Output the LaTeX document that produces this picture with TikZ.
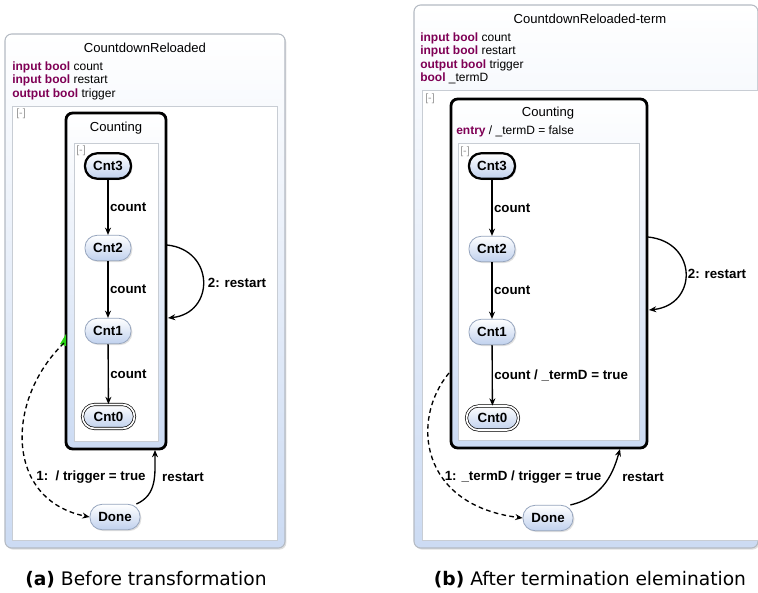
\documentclass[tikz,border=0pt]{standalone}
\usepackage{fontspec}
\setmainfont{Liberation Sans}
\newfontfamily\capfont{DejaVu Sans}
\usetikzlibrary{arrows.meta,shadows,calc}
\definecolor{kw}{RGB}{127,0,85}
\definecolor{panelbot}{RGB}{204,219,243}
\definecolor{nodebot}{RGB}{192,209,238}
\definecolor{nodeedge}{RGB}{150,165,190}
\definecolor{paneledge}{RGB}{180,186,195}
\definecolor{inneredge}{RGB}{200,205,212}
\definecolor{trigreen}{RGB}{40,210,20}
\tikzset{
  panel/.style={draw=paneledge, line width=0.8pt, rounded corners=5pt, top color=white, bottom color=panelbot,
    drop shadow={opacity=0.25, shadow xshift=1pt, shadow yshift=-1.2pt}},
  region/.style={draw=inneredge, line width=0.6pt, fill=white},
  composite/.style={draw=black, line width=2.1pt, rounded corners=5pt, top color=white, bottom color=panelbot,
    inner sep=0pt, outer sep=0pt},
  statebox/.style={shape=rectangle, rounded corners=9pt, minimum width=34.5pt, minimum height=19pt, inner sep=0pt,
    draw=nodeedge, line width=0.6pt, top color=white, bottom color=nodebot,
    font=\bfseries\fontsize{10}{12}\selectfont,
    drop shadow={opacity=0.25, shadow xshift=1pt, shadow yshift=-1pt}},
  initstate/.style={statebox, draw=black, line width=1.7pt},
  finalstate/.style={statebox, draw=black, line width=0.5pt, double=white, double distance=1.3pt, minimum width=39pt, minimum height=18pt},
  trans/.style={-{Stealth[length=5.5pt,width=4.5pt]}, line width=1pt},
  weak/.style={trans, dash pattern=on 3.5pt off 2.5pt},
  lab/.style={font=\bfseries\fontsize{10}{12}\selectfont, inner sep=1pt},
  titletext/.style={font=\fontsize{9.8}{12}\selectfont, inner sep=0pt},
  decl/.style={font=\fontsize{9}{10.2}\selectfont, anchor=west, inner sep=0pt},
  coll/.style={font=\fontsize{8}{9}\selectfont, text=gray!80, inner sep=0pt},
  captext/.style={font=\capfont\fontsize{14}{16}\selectfont, inner sep=0pt}
}
\newcommand{\kwd}[1]{\textcolor{kw}{\textbf{#1}}}
\begin{document}
\begin{tikzpicture}[x=0.75pt,y=-0.75pt]
\useasboundingbox (0,0) rectangle (758,593);

% ================= (a) =================
\draw[panel] (5,34) rectangle (285,548);
\node[titletext] (ta) at (145,48) {CountdownReloaded};
\node[decl] (da1) at (12,67) {\kwd{input bool} count};
\node[decl] (da2) at (12,80.5) {\kwd{input bool} restart};
\node[decl] (da3) at (12,94) {\kwd{output bool} trigger};
\draw[region] (12,106) rectangle (277,540);
\node[coll] (ca) at (21,114) {[-]};

\node[composite, minimum width=75pt, minimum height=252pt] (CA) at (116,281) {};
\node[titletext] (cta) at (116,128) {Counting};
\draw[region] (74,143) rectangle (158,441);
\node[coll] (cia) at (81,151) {[-]};

\node[initstate] (a3) at (108,166) {Cnt3};
\node[statebox] (a2) at (108,248) {Cnt2};
\node[statebox] (a1) at (108,331) {Cnt1};
\node[finalstate] (a0) at (108.5,416.5) {Cnt0};
\node[statebox, minimum width=37.5pt] (ad) at (115,517) {Done};

\draw[trans] (a3) -- node[lab, right] {count} (a2);
\draw[trans] (a2) -- node[lab, right] {count} (a1);
\draw[trans] (a1) -- node[lab, right] {count} (a0);

\coordinate (la1) at (167,245);
\coordinate (la2) at (168,318);
\draw[trans] (la1) .. controls (215,250) and (215,313) .. (la2);
\node[lab] (lla) at (237,283) {2: restart};

\coordinate (wa) at (64,343);
\fill[trigreen] (66,334) -- (66,346) -- (60,344) -- cycle;
\draw[weak] (wa) .. controls (5,400) and (5,500) .. (ad.west);
\node[lab] (wla) at (91,477) {1:\ \ / trigger = true};

\coordinate (ra) at (155,450);
\draw[trans] (ad.north east) ++(-4,0) .. controls (157,495) and (155,475) .. (ra);
\node[lab] (rla) at (183,477) {restart};

\node[captext] (capa) at (146,580) {\textbf{(a)} Before transformation};

% ================= (b) =================
\draw[panel] (414,5) -- (758,5) -- (758,548) -- (414,548) -- cycle;
\node[titletext] (tb) at (590,19) {CountdownReloaded-term};
\node[decl] (db1) at (420,38) {\kwd{input bool} count};
\node[decl] (db2) at (420,51.5) {\kwd{input bool} restart};
\node[decl] (db3) at (420,65) {\kwd{output bool} trigger};
\node[decl] (db4) at (420,78.5) {\kwd{bool} \_termD};
\draw[region] (422,90) rectangle (758,540);
\node[coll] (cb) at (430,99) {[-]};

\node[composite, minimum width=147pt, minimum height=261.75pt] (CB) at (549,273.5) {};
\node[titletext] (ctb) at (548,113) {Counting};
\node[decl] (entry) at (456,131.5) {\kwd{entry} / \_termD = false};
\draw[region] (458,143) rectangle (639,440);
\node[coll] (cib) at (465,152) {[-]};

\node[initstate] (b3) at (492,166) {Cnt3};
\node[statebox] (b2) at (492,249) {Cnt2};
\node[statebox] (b1) at (492,332) {Cnt1};
\node[finalstate] (b0) at (492.5,418) {Cnt0};
\node[statebox, minimum width=37.5pt] (bd) at (548,518) {Done};

\draw[trans] (b3) -- node[lab, right] {count} (b2);
\draw[trans] (b2) -- node[lab, right] {count} (b1);
\draw[trans] (b1) -- node[lab, right] {count / \_termD = true} (b0);

\coordinate (lb1) at (648,237);
\coordinate (lb2) at (649,310);
\draw[trans] (lb1) .. controls (698,242) and (698,305) .. (lb2);
\node[lab] (llb) at (717,274) {2: restart};

\coordinate (wb) at (449,373);
\draw[weak] (wb) .. controls (410,420) and (420,505) .. (bd.west);
\node[lab] (wlb) at (523,477) {1: \_termD / trigger = true};

\coordinate (rb) at (620,449);
\draw[trans] (bd.north east) ++(-3,0) .. controls (605,497) and (614,470) .. (rb);
\node[lab] (rlb) at (643,477) {restart};

\node[captext] (capb) at (590,580) {\textbf{(b)} After termination elemination};
\end{tikzpicture}
\end{document}
